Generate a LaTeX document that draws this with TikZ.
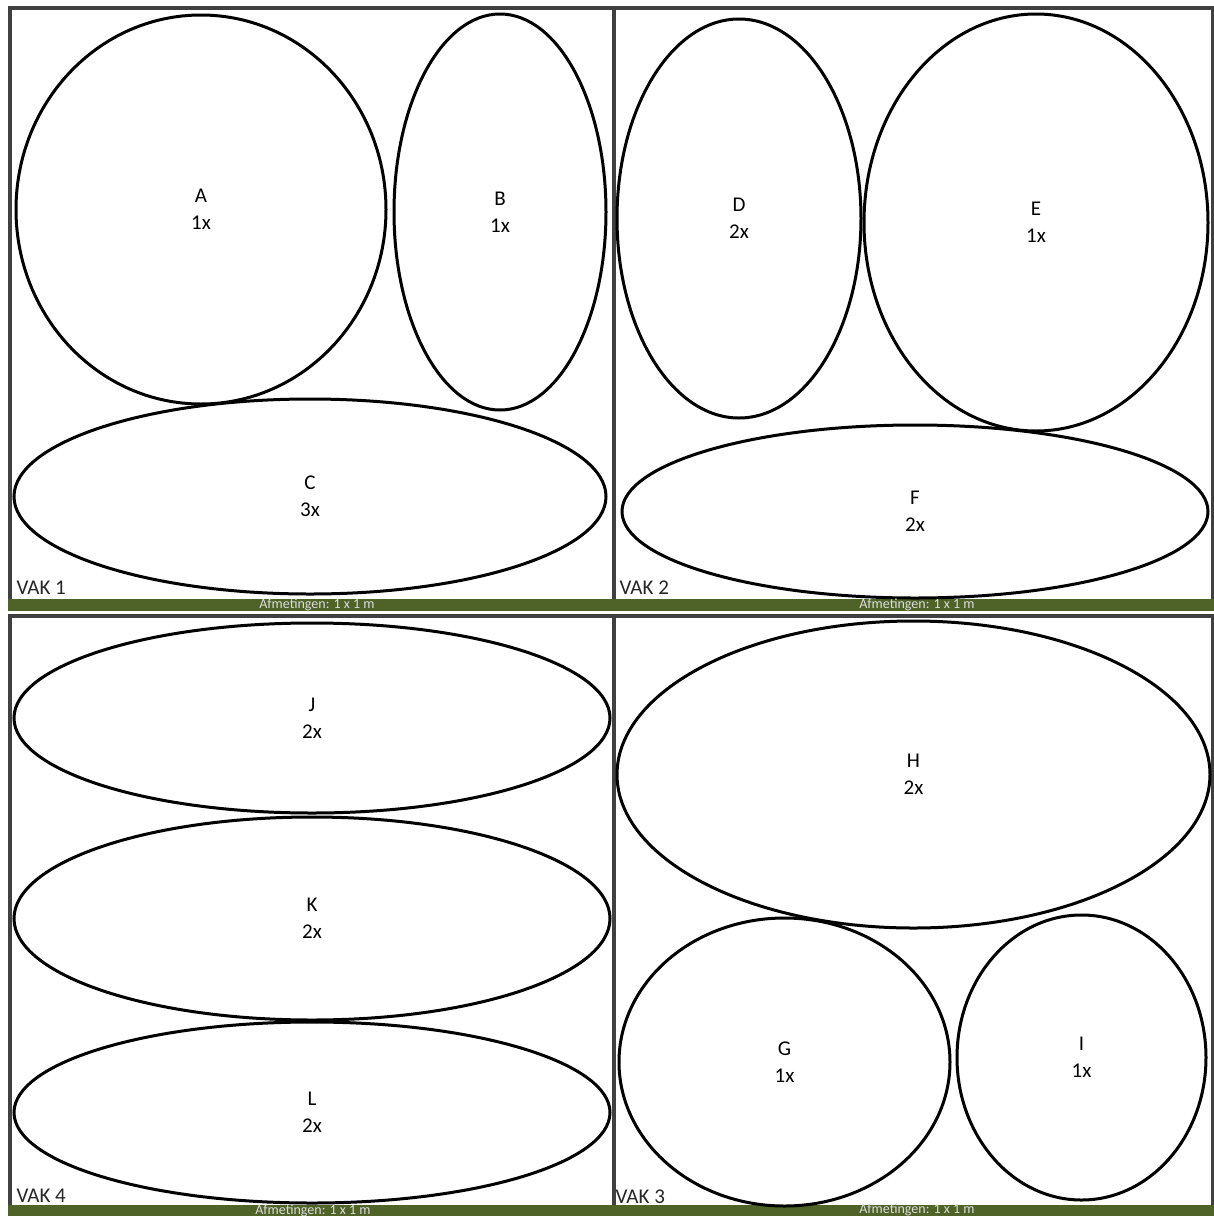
\documentclass[tikz,border=0pt]{standalone}
\usepackage{fontspec}
\setmainfont{Carlito}
\usetikzlibrary{shapes.geometric}
\definecolor{cgrey}{HTML}{404040}
\definecolor{cgreen}{HTML}{4F6228}
\definecolor{clight}{HTML}{DCDCDC}
\tikzset{
  every picture/.style={line width=1pt},
  plate/.style={draw=black, ellipse, line width=3pt, inner sep=0pt, align=center, font=\fontsize{21}{27}\selectfont},
  frame/.style={draw=cgrey, line width=4pt},
  bar/.style={fill=cgreen},
  vak/.style={anchor=base west, inner sep=0pt, text=black!85, font=\fontsize{21}{25}\selectfont},
  maat/.style={inner sep=0pt, text=clight, font=\fontsize{14}{16}\selectfont},
}

\begin{document}
\begin{tikzpicture}[x=1pt, y=-1pt]
  \useasboundingbox (0,0) rectangle (1214,1216);

  % panel lines
  \draw[frame] (10,599) -- (10,8) -- (1214,8);
  \draw[frame] (614,8) -- (614,599);
  \draw[frame] (1213,8) -- (1213,599);
  \draw[frame] (8,616) -- (1214,616);
  \draw[frame] (10,616) -- (10,1205);
  \draw[frame] (614,616) -- (614,1205);
  \draw[frame] (1213,616) -- (1213,1205);

  % green bars
  \fill[bar] (8,599) rectangle (1214,611);
  \fill[bar] (8,1205) rectangle (1214,1217);

  % vak 1
  \node[plate, minimum width=370pt, minimum height=389pt] (a) at (201,209.5) {A\\1x};
  \node[plate, minimum width=212pt, minimum height=396pt] (b) at (500,212) {B\\1x};
  \node[plate, minimum width=592pt, minimum height=195pt] (c) at (310,496.5) {C\\3x};
  \node[vak] (vak1) at (16,594) {VAK 1};
  \node[maat] (maat1) at (317,605) {Afmetingen: 1 x 1 m};

  % vak 2
  \node[plate, minimum width=244pt, minimum height=399pt] (d) at (739,218.5) {D\\2x};
  \node[plate, minimum width=344pt, minimum height=417pt] (e) at (1036,222.5) {E\\1x};
  \node[plate, minimum width=586pt, minimum height=173pt] (f) at (915,511.5) {F\\2x};
  \node[vak] (vak2) at (619,594) {VAK 2};
  \node[maat] (maat2) at (917,605) {Afmetingen: 1 x 1 m};

  % vak 4
  \node[plate, minimum width=596pt, minimum height=190pt] (j) at (312,718) {J\\2x};
  \node[plate, minimum width=596pt, minimum height=203pt] (k) at (312,918.5) {K\\2x};
  \node[plate, minimum width=596pt, minimum height=181pt] (l) at (312,1112.5) {L\\2x};
  \node[vak] (vak4) at (16,1202) {VAK 4};
  \node[maat] (maat4) at (313,1211) {Afmetingen: 1 x 1 m};

  % vak 3
  \node[plate, minimum width=593pt, minimum height=307pt] (h) at (913.5,774.5) {H\\2x};
  \node[plate, minimum width=331pt, minimum height=288pt] (g) at (784.5,1062) {G\\1x};
  \node[plate, minimum width=249pt, minimum height=285pt] (i) at (1081.5,1057.5) {I\\1x};
  \node[vak] (vak3) at (615,1203) {VAK 3};
  \node[maat] (maat3) at (917,1210) {Afmetingen: 1 x 1 m};
\end{tikzpicture}
\end{document}
